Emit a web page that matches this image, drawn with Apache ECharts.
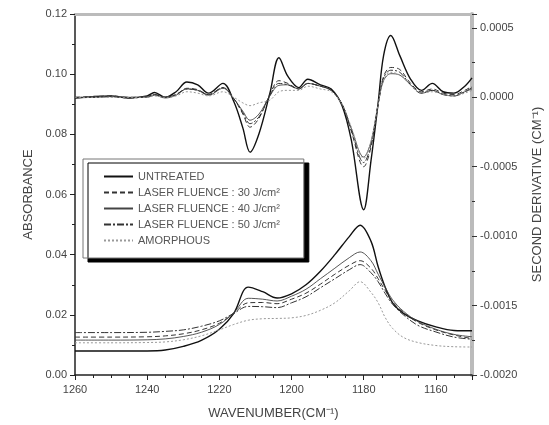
<!DOCTYPE html>
<html>
<head>
<meta charset="utf-8">
<script src="https://cdn.jsdelivr.net/npm/echarts@6/dist/echarts.min.js"></script>
<style>
  html, body { margin: 0; padding: 0; background: #fff; }
  #chart { width: 549px; height: 425px; }
</style>
</head>
<body>
<div id="chart"></div>
<script>
// series names (legend order)
var names = [
  "UNTREATED",
  "LASER FLUENCE : 30 J/cm²",
  "LASER FLUENCE : 40 J/cm²",
  "LASER FLUENCE : 50 J/cm²",
  "AMORPHOUS"
];

// absorbance spectra (left axis)
var wnAbs = [1260, 1250, 1240, 1235, 1230, 1225, 1220, 1216, 1212, 1208, 1204, 1200, 1196,
  1192, 1188, 1184, 1181, 1178, 1176, 1174, 1172, 1169, 1165, 1160, 1155, 1150];
var absUntreated = [0.008, 0.008, 0.008, 0.0083, 0.0095, 0.0115, 0.0152, 0.0205, 0.0292, 0.0277, 0.0256, 0.027, 0.030,
  0.0345, 0.040, 0.046, 0.0498, 0.0445, 0.036, 0.029, 0.024, 0.0205, 0.018, 0.016, 0.0148, 0.0147];
var abs30 = [0.0126, 0.0126, 0.0127, 0.013, 0.0137, 0.015, 0.0172, 0.0205, 0.024, 0.0241, 0.0237, 0.0252, 0.0272,
  0.0302, 0.0335, 0.0365, 0.038, 0.0355, 0.032, 0.028, 0.0243, 0.0208, 0.0175, 0.015, 0.0133, 0.0121];
var abs40 = [0.0116, 0.0116, 0.0117, 0.012, 0.0128, 0.0142, 0.0168, 0.0207, 0.0255, 0.0252, 0.0246, 0.0262, 0.0285,
  0.032, 0.0355, 0.039, 0.0409, 0.038, 0.0335, 0.029, 0.025, 0.0212, 0.0178, 0.0152, 0.0135, 0.0127];
var abs50 = [0.0141, 0.0141, 0.0142, 0.0145, 0.015, 0.0162, 0.018, 0.0205, 0.0228, 0.0227, 0.0224, 0.024, 0.026,
  0.029, 0.032, 0.035, 0.0367, 0.034, 0.031, 0.027, 0.0235, 0.02, 0.0165, 0.0143, 0.0126, 0.0119];
var absAmorph = [0.0107, 0.0107, 0.0108, 0.011, 0.0117, 0.013, 0.015, 0.0168, 0.0182, 0.0187, 0.0188, 0.019, 0.0198,
  0.0215, 0.024, 0.028, 0.031, 0.0275, 0.024, 0.019, 0.0155, 0.0125, 0.0108, 0.0098, 0.0094, 0.0093];

// second derivative spectra (right axis), values in units of 1e-4 cm^-1
var wnDer = [1260, 1255, 1250, 1245, 1240, 1238, 1235, 1232, 1229, 1226, 1223, 1219, 1216, 1213.5, 1211.5,
  1209, 1206, 1203.5, 1201, 1198, 1195.5, 1192, 1189, 1186, 1183.5, 1180, 1178, 1176, 1174.5, 1172.5,
  1170, 1167, 1164, 1161, 1158, 1155, 1152, 1150];
var derUntreated = [-0.05, 0.05, 0.1, -0.05, 0.1, 0.35, 0.0, 0.4, 1.1, 0.9, 0.3, 1.0, -0.3, -2.2, -3.95,
  -2.6, 0.3, 2.85, 1.5, 0.7, 1.3, 0.9, 0.6, -0.6, -3.0, -8.1, -4.6, -0.4, 3.0, 4.45,
  3.0, 1.3, 0.5, 1.0, 0.4, 0.3, 0.8, 1.4];
var der30 = [0.0, 0.05, 0.1, 0.0, 0.05, 0.2, 0.0, 0.2, 0.65, 0.55, 0.2, 0.7, -0.1, -1.2, -2.15,
  -1.5, 0.2, 1.2, 1.0, 0.6, 1.0, 0.8, 0.5, -0.5, -2.4, -5.0, -3.6, -0.5, 1.5, 2.15,
  2.0, 1.0, 0.4, 0.6, 0.3, 0.2, 0.5, 0.8];
var der40 = [-0.05, 0.0, 0.05, 0.0, 0.0, 0.15, -0.05, 0.15, 0.6, 0.5, 0.15, 0.65, -0.1, -1.0, -1.65,
  -1.2, 0.1, 0.86, 0.9, 0.6, 1.0, 0.8, 0.5, -0.5, -2.2, -4.3, -3.2, -0.5, 1.2, 1.7,
  1.6, 0.9, 0.3, 0.5, 0.2, 0.1, 0.4, 0.6];
var der50 = [0.0, 0.0, 0.05, -0.05, 0.05, 0.2, 0.0, 0.2, 0.6, 0.5, 0.2, 0.7, -0.1, -1.1, -1.9,
  -1.4, 0.15, 1.0, 0.9, 0.6, 1.0, 0.8, 0.5, -0.5, -2.3, -4.7, -3.4, -0.5, 1.4, 1.95,
  1.8, 0.9, 0.3, 0.5, 0.2, 0.1, 0.4, 0.7];
var derAmorph = [0.0, 0.0, 0.0, 0.0, 0.0, 0.1, 0.0, 0.1, 0.4, 0.3, 0.1, 0.4, 0.0, -0.4, -0.6,
  -0.4, -0.2, 0.4, 0.5, 0.5, 0.8, 0.6, 0.4, -0.5, -2.1, -4.4, -3.2, -0.5, 1.3, 1.8,
  1.6, 0.9, 0.3, 0.4, 0.2, 0.1, 0.3, 0.5];

// line look per series
var styles = [
  { color: "#111", width: 1.4, type: "solid" },
  { color: "#333", width: 1, type: [5, 3] },
  { color: "#444", width: 0.9, type: "solid" },
  { color: "#333", width: 1, type: [7, 2, 2, 2] },
  { color: "#999", width: 1, type: [2, 2] }
];

var fontName = "Liberation Sans, Arial, sans-serif";

function makeSeries(name, wn, vals, axis, scale, st) {
  return {
    name: name,
    type: "line",
    yAxisIndex: axis,
    data: wn.map(function (w, i) { return [w, vals[i] * scale]; }),
    smooth: 0.35,
    symbol: "none",
    lineStyle: { color: st.color, width: st.width, type: st.type },
    itemStyle: { color: st.color },
    z: axis === 1 ? 3 : 2
  };
}

var absList = [absUntreated, abs30, abs40, abs50, absAmorph];
var derList = [derUntreated, der30, der40, der50, derAmorph];
var series = [];
names.forEach(function (n, i) {
  series.push(makeSeries(n, wnDer, derList[i], 1, 1e-4, styles[i]));
});
names.forEach(function (n, i) {
  series.push(makeSeries(n, wnAbs, absList[i], 0, 1, styles[i]));
});

var chart = echarts.init(document.getElementById("chart"));
chart.setOption({
  animation: false,
  backgroundColor: "#fff",
  textStyle: { fontFamily: fontName },
  grid: { left: 75, right: 77, top: 14, bottom: 50, outerBoundsMode: "none" },
  legend: {
    data: names,
    orient: "vertical",
    left: 83,
    top: 159,
    padding: [12, 24, 12, 20],
    itemWidth: 29,
    itemHeight: 10,
    itemGap: 5,
    itemStyle: { opacity: 0 },
    backgroundColor: "#fff",
    borderColor: "#777",
    borderWidth: 1,
    shadowColor: "#000",
    shadowBlur: 0,
    shadowOffsetX: 5,
    shadowOffsetY: 4,
    textStyle: { color: "#555", fontSize: 11, fontFamily: fontName }
  },
  xAxis: [
    {
      type: "value",
      min: 1150,
      max: 1260,
      splitNumber: 5,
      inverse: true,
      name: "WAVENUMBER(CM⁻¹)",
      nameLocation: "middle",
      nameGap: 32,
      nameTextStyle: { color: "#444", fontSize: 13 },
      axisLine: { onZero: false, lineStyle: { color: "#222", width: 1.5 } },
      axisTick: { inside: false, length: 5, lineStyle: { color: "#222" } },
      minorTick: { show: true, splitNumber: 4, length: 3, lineStyle: { color: "#222" } },
      axisLabel: {
        color: "#444", fontSize: 11, margin: 9, showMinLabel: false,
        formatter: function (v) { return String(v); }
      },
      splitLine: { show: false }
    },
    {
      type: "value",
      position: "top",
      min: 1150,
      max: 1260,
      inverse: true,
      axisLine: { onZero: false, lineStyle: { color: "#bbb", width: 3 } },
      axisTick: { show: false },
      axisLabel: { show: false },
      splitLine: { show: false }
    }
  ],
  yAxis: [
    {
      type: "value",
      min: 0,
      max: 0.12,
      interval: 0.02,
      name: "ABSORBANCE",
      nameLocation: "middle",
      nameGap: 39,
      nameRotate: 90,
      nameTextStyle: { color: "#444", fontSize: 13 },
      axisLine: { show: true, lineStyle: { color: "#222", width: 1.5 } },
      axisTick: { length: 5, lineStyle: { color: "#222" } },
      minorTick: { show: true, splitNumber: 2, length: 3, lineStyle: { color: "#222" } },
      axisLabel: {
        color: "#444", fontSize: 11, margin: 8,
        formatter: function (v) { return v.toFixed(2); }
      },
      splitLine: { show: false }
    },
    {
      type: "value",
      position: "right",
      min: -0.002,
      max: 0.0006,
      interval: 0.0005,
      name: "SECOND DERIVATIVE (CM⁻¹)",
      nameLocation: "middle",
      nameGap: 59,
      nameRotate: 90,
      nameTextStyle: { color: "#444", fontSize: 13 },
      axisLine: { show: true, lineStyle: { color: "#bbb", width: 4 } },
      axisTick: { length: 5, lineStyle: { color: "#333" } },
      minorTick: { show: true, splitNumber: 2, length: 3, lineStyle: { color: "#333" } },
      axisLabel: {
        color: "#444", fontSize: 11, margin: 8, showMaxLabel: false,
        formatter: function (v) { return v > 0.00055 ? "" : v.toFixed(4); }
      },
      splitLine: { show: false }
    }
  ],
  series: series
});
</script>
</body>
</html>
